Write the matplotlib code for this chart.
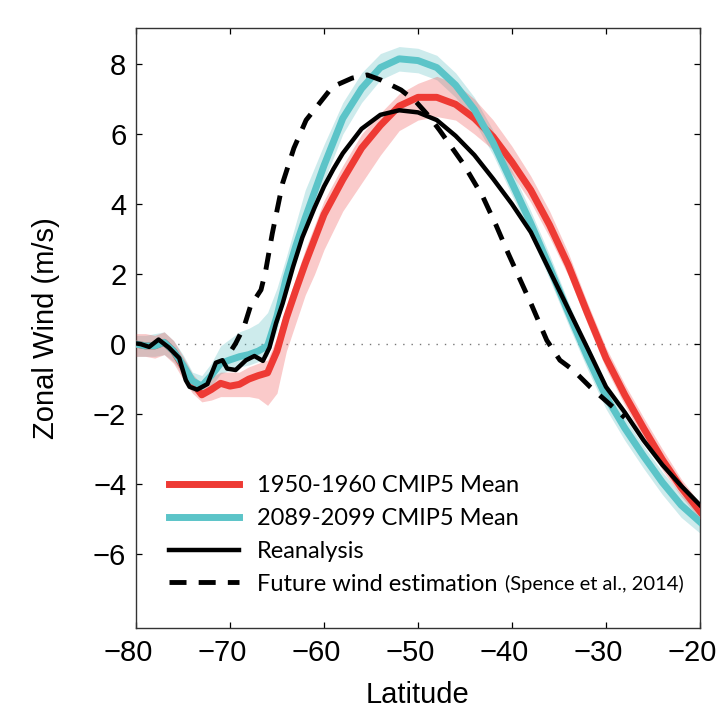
import matplotlib
matplotlib.use("Agg")
import matplotlib.pyplot as plt
from matplotlib.transforms import ScaledTranslation

# latitude grid shared by the two CMIP5 means and their spread
lat = [-80, -79, -78, -77, -76, -75, -74, -73, -72, -71, -70, -69, -68, -67, -66,
       -65, -64, -63, -62, -61, -60, -58, -56, -54, -52, -50, -48, -46, -44, -42,
       -40, -38, -36, -34, -32, -30, -28, -26, -24, -22, -20]

# 1950-1960 CMIP5 mean
hist_mean = [0.0, -0.05, -0.05, 0.05, -0.2, -0.65, -1.1, -1.45, -1.3, -1.12, -1.2,
             -1.15, -1.0, -0.9, -0.82, -0.2, 0.75, 1.54, 2.3, 3.0, 3.7, 4.7, 5.6,
             6.25, 6.8, 7.05, 7.05, 6.85, 6.45, 5.92, 5.2, 4.4, 3.4, 2.25, 0.9,
             -0.4, -1.45, -2.4, -3.3, -4.1, -4.78]
hist_low = [-0.35, -0.35, -0.4, -0.3, -0.55, -1.0, -1.4, -1.65, -1.6, -1.5, -1.5,
            -1.5, -1.5, -1.55, -1.75, -1.4, -0.2, 0.6, 1.4, 2.0, 2.7, 3.8, 4.6,
            5.4, 6.1, 6.4, 6.5, 6.4, 6.0, 5.55, 4.85, 4.05, 3.05, 1.95, 0.6,
            -0.7, -1.75, -2.7, -3.6, -4.35, -5.0]
hist_high = [0.3, 0.3, 0.25, 0.35, 0.1, -0.35, -0.85, -1.15, -0.95, -0.8, -0.8,
             -0.8, -0.65, -0.55, -0.45, 0.2, 1.1, 1.9, 2.7, 3.4, 4.1, 5.1, 6.0,
             6.6, 7.15, 7.45, 7.65, 7.45, 7.0, 6.4, 5.65, 4.8, 3.8, 2.6, 1.2,
             -0.1, -1.15, -2.1, -3.0, -3.85, -4.55]

# 2089-2099 CMIP5 mean
fut_mean = [0.0, -0.05, -0.05, 0.05, -0.2, -0.6, -1.05, -1.2, -0.9, -0.55, -0.45,
            -0.36, -0.3, -0.2, -0.05, 0.8, 1.9, 2.8, 3.6, 4.35, 5.1, 6.45, 7.3,
            7.9, 8.15, 8.1, 7.9, 7.4, 6.7, 5.75, 4.6, 3.45, 2.2, 0.9, -0.35,
            -1.5, -2.4, -3.2, -3.95, -4.6, -5.08]
fut_low = [-0.35, -0.35, -0.35, -0.3, -0.5, -0.9, -1.35, -1.45, -1.2, -0.85, -0.75,
           -0.65, -0.6, -0.5, -0.35, 0.4, 1.5, 2.4, 3.2, 3.9, 4.65, 6.0, 6.9,
           7.55, 7.8, 7.75, 7.55, 7.05, 6.35, 5.4, 4.25, 3.1, 1.85, 0.55, -0.7,
           -1.85, -2.75, -3.55, -4.3, -4.95, -5.4]
fut_high = [0.25, 0.25, 0.3, 0.35, 0.1, -0.3, -0.8, -0.9, -0.55, -0.05, 0.15,
            0.35, 0.45, 0.6, 0.9, 1.6, 2.5, 3.45, 4.4, 5.05, 5.7, 6.9, 7.75,
            8.3, 8.5, 8.45, 8.25, 7.75, 7.05, 6.1, 4.95, 3.8, 2.55, 1.2, -0.05,
            -1.2, -2.1, -2.9, -3.65, -4.3, -4.8]

# reanalysis
rean_lat = [-80, -79.5, -78.6, -77.6, -76.5, -75.4, -74.7, -74.3, -73.5, -72.4,
            -71.5, -70.8, -70.3, -69.4, -68.3, -67.4, -66.5, -65.8, -65.1, -64.4,
            -63.3, -62.3, -61, -60, -59, -58, -56, -54, -52, -50, -48, -46, -44,
            -42, -40, -38, -36, -34, -32, -30, -28, -26, -24, -22, -20]
rean = [0.02, 0.0, -0.08, 0.13, -0.1, -0.4, -1.03, -1.22, -1.3, -1.14,
        -0.53, -0.46, -0.7, -0.74, -0.46, -0.34, -0.48, -0.1, 0.6, 1.16,
        2.2, 3.05, 3.9, 4.5, 5.0, 5.45, 6.15, 6.55, 6.68, 6.62, 6.4, 5.95, 5.4,
        4.72, 4.0, 3.2, 2.1, 1.0, -0.1, -1.22, -1.95, -2.75, -3.45, -4.05, -4.6]

# future wind estimation (Spence et al., 2014)
spence_lat = [-69.8, -69.4, -68.5, -67.8, -66.7, -66.2, -65.5, -64.4, -63.2, -61.9,
              -59.1, -57, -55.4, -53.9, -51.8, -50.2, -48.8, -47.7, -45.2, -43.1,
              -41.7, -40.4, -37.9, -36.3, -34.9, -33.5, -31.7, -30.3, -28.5, -28.0]
spence = [-0.15, 0.02, 0.5, 1.1, 1.55, 2.1, 3.16, 4.6, 5.6, 6.4,
          7.35, 7.6, 7.69, 7.54, 7.26, 6.92, 6.5, 6.11, 5.16, 4.21,
          3.4, 2.59, 1.11, 0.11, -0.46, -0.74, -1.22, -1.55, -1.98, -2.1]

red = "#ee3a34"
cyan = "#5bc4c8"

fig = plt.figure(figsize=(7.18, 7.22), dpi=100)
ax = fig.add_axes([0.1894, 0.1302, 0.7855, 0.831])

ax.axhline(0, color="#777777", lw=1, ls=(0, (1, 5)), zorder=1)

ax.fill_between(lat, fut_low, fut_high, color="#5abdc3", alpha=0.3, lw=0, zorder=2)
ax.fill_between(lat, hist_low, hist_high, color="#f05050", alpha=0.3, lw=0, zorder=3)

ax.plot(lat, hist_mean, color=red, lw=5, label="1950-1960 CMIP5 Mean", zorder=4)
ax.plot(lat, fut_mean, color=cyan, lw=5, label="2089-2099 CMIP5 Mean", zorder=5)
ax.plot(rean_lat, rean, color="black", lw=3.2, label="Reanalysis", zorder=6)
ax.plot(spence_lat, spence, color="black", lw=3.5, dashes=(3.5, 2.5),
        label="Future wind estimation", zorder=7)

ax.set_xlim(-80, -20)
ax.set_ylim(-8.11, 9.03)
ax.set_xticks(range(-80, -19, 10))
ax.set_yticks(range(-6, 9, 2))
ax.tick_params(direction="in", top=True, right=True, length=4.5, width=0.9,
               labelsize=21, pad=8)
ax.tick_params(axis="y", pad=7)
for s in ax.spines.values():
    s.set_linewidth(1.0)
    s.set_color("#333333")

ax.set_xlabel("Latitude", fontsize=21, family="Liberation Sans", labelpad=10)
ax.set_ylabel("Zonal Wind (m/s)", fontsize=21, family="Liberation Sans", labelpad=24)
for t in ax.get_xticklabels() + ax.get_yticklabels():
    t.set_family("Liberation Sans")
# x labels sit a little left of their ticks in the original
shift = ScaledTranslation(-8 / 100, 0, fig.dpi_scale_trans)
for t in ax.get_xticklabels():
    t.set_transform(t.get_transform() + shift)

leg = ax.legend(loc="lower left", bbox_to_anchor=(0.02, 0.02), frameon=False,
                prop={"family": "Lato", "size": 17}, handlelength=3.0,
                handletextpad=0.75, labelspacing=0.5)

fig.canvas.draw()
last = leg.get_texts()[-1]
bb = last.get_window_extent().transformed(fig.transFigure.inverted())
fig.text(bb.x1 + 7 / 718, bb.y0 + 4.5 / 722, "(Spence et al., 2014)", fontsize=14.5,
         family="Lato", va="baseline", ha="left")

fig.savefig("out.png", dpi=100)
